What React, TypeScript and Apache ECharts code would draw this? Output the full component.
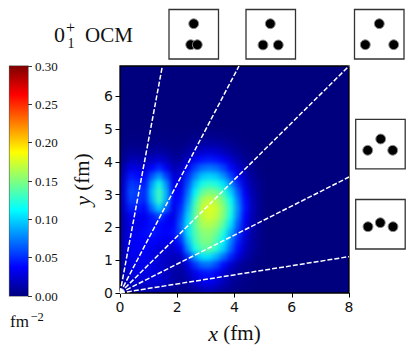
import React, { useEffect, useRef } from "react";
import * as echarts from "echarts";

const X_MAX = 8;
const Y_MAX = 6.93;
const X_TICKS = [0, 2, 4, 6, 8];
const Y_TICKS = [0, 1, 2, 3, 4, 5, 6];
const CELL_COLS = 32;
const CELL_ROWS = 28;
const CELL_SIZE = 0.25;
const COLOR_MAX = 0.3;
const COLOR_TICK_STEP = 0.05;
const JET = ["#00007f", "#0000ff", "#007fff", "#00ffff", "#7fff7f", "#ffff00", "#ff7f00", "#ff0000", "#7f0000"];

// Density, one row per 0.25 fm in y (bottom first), one value per 0.25 fm in x from x = 0.
const DENSITY_ROWS: number[][] = [
  [.008,.014,.016,.016,.016,.016,.012,.008,.005,.007,.012,.018,.02,.016,.01,.006,.003,.002],
  [.012,.022,.025,.026,.026,.026,.02,.012,.008,.013,.024,.032,.034,.028,.018,.01,.005,.003,.001],
  [.014,.028,.03,.03,.028,.026,.02,.013,.01,.018,.032,.042,.044,.036,.024,.014,.007,.004,.002],
  [.014,.03,.032,.032,.03,.025,.02,.014,.012,.028,.052,.068,.07,.058,.04,.024,.012,.006,.003,.001],
  [.014,.03,.034,.034,.03,.026,.022,.018,.02,.05,.085,.105,.105,.09,.07,.048,.028,.014,.006,.002],
  [.016,.034,.036,.036,.032,.028,.026,.024,.036,.08,.118,.138,.14,.125,.1,.068,.04,.02,.009,.003],
  [.016,.034,.036,.038,.038,.034,.032,.034,.05,.095,.13,.148,.15,.135,.11,.078,.047,.024,.01,.004],
  [.016,.032,.034,.04,.044,.04,.036,.042,.062,.105,.135,.152,.155,.145,.122,.09,.055,.028,.012,.004],
  [.016,.03,.03,.036,.042,.04,.034,.036,.065,.105,.14,.162,.165,.158,.138,.105,.065,.032,.014,.005],
  [.016,.034,.034,.032,.044,.058,.04,.03,.058,.1,.14,.168,.175,.168,.15,.118,.075,.038,.016,.006],
  [.02,.046,.044,.04,.07,.1,.068,.032,.05,.09,.135,.17,.178,.172,.152,.122,.08,.042,.018,.006],
  [.024,.056,.052,.048,.09,.13,.088,.036,.042,.08,.125,.16,.17,.163,.145,.115,.075,.04,.017,.006],
  [.024,.06,.055,.05,.095,.132,.09,.036,.036,.07,.11,.14,.15,.145,.128,.1,.065,.034,.014,.005],
  [.022,.054,.05,.044,.085,.118,.08,.032,.03,.06,.095,.118,.125,.12,.105,.08,.05,.026,.011,.004],
  [.018,.044,.04,.036,.062,.082,.056,.026,.026,.05,.075,.095,.1,.095,.08,.058,.036,.019,.008,.002],
  [.012,.03,.028,.024,.038,.048,.034,.016,.018,.036,.055,.068,.072,.068,.056,.04,.024,.012,.005,.001],
  [.006,.016,.015,.013,.02,.024,.018,.009,.01,.02,.034,.042,.045,.042,.034,.024,.014,.007,.002],
  [.003,.008,.007,.006,.009,.011,.008,.004,.005,.01,.018,.022,.024,.022,.018,.012,.007,.003,.001],
  [.001,.003,.003,.002,.003,.004,.003,.002,.002,.004,.008,.01,.011,.01,.008,.005,.003,.001],
  [0,.001,.001,.001,.001,.001,.001,.001,.001,.001,.003,.003,.004,.003,.003,.002,.001],
];

// Far ends of the dashed rays from the origin.
const RAY_ENDS: [number, number][] = [
  [1.48, 6.93],
  [4.157, 6.93],
  [8, 6.93],
  [8, 3.54],
  [8, 1.11],
];

const PLOT = { left: 120, top: 66, width: 229, height: 227 };
const BAR = { left: 9.5, top: 66, width: 18.5, height: 230 };

const INSETS = [
  { x: 169, y: 9.5, dots: [[24.7, 14.2], [21.7, 35.2], [28.3, 35.2]] },
  { x: 246, y: 9.5, dots: [[24.3, 14.2], [17, 35.5], [32.3, 35.5]] },
  { x: 354.5, y: 9.5, dots: [[24.8, 14.2], [10.8, 35.2], [39.2, 35.2]] },
  { x: 355.7, y: 119.3, dots: [[25, 19.7], [12, 31], [37, 31]] },
  { x: 355.7, y: 199.5, dots: [[24.6, 23.2], [12.3, 27.2], [37.3, 27.2]] },
];

const SERIF = "'Liberation Serif', serif";
const SANS = "'DejaVu Sans', sans-serif";

// x, baseline are page pixels; the text box is placed from the top.
function text(str: string, x: number, baseline: number, size: number) {
  return {
    type: "text",
    x,
    y: baseline - size * 0.85,
    style: { text: str, font: `${size}px ${SERIF}`, fill: "#111" },
  };
}

export default function App() {
  const heatRef = useRef<HTMLDivElement>(null);
  const topRef = useRef<HTMLDivElement>(null);

  useEffect(() => {
    const heat = echarts.init(heatRef.current!, undefined, { renderer: "svg" });
    const heatData: number[][] = [];
    for (let r = 0; r < CELL_ROWS; r++) {
      for (let c = 0; c < CELL_COLS; c++) {
        heatData.push([c, r, DENSITY_ROWS[r]?.[c] ?? 0]);
      }
    }
    const xCats = Array.from({ length: CELL_COLS }, (_, i) => (i * CELL_SIZE).toFixed(2));
    const yCats = Array.from({ length: CELL_ROWS }, (_, i) => (i * CELL_SIZE).toFixed(2));
    heat.setOption({
      animation: false,
      grid: { left: 0, right: 0, bottom: 0, top: -2.3, containLabel: false },
      xAxis: { type: "category", data: xCats, show: false },
      yAxis: { type: "category", data: yCats, show: false },
      visualMap: { show: false, min: 0, max: COLOR_MAX, inRange: { color: JET }, calculable: false },
      series: [
        {
          type: "heatmap",
          data: heatData,
          progressive: 0,
          itemStyle: { borderWidth: 0 },
          emphasis: { disabled: true },
        },
      ],
    });

    const top = echarts.init(topRef.current!, undefined, { renderer: "svg" });
    const stops = JET.map((color, i) => ({ offset: i / (JET.length - 1), color }));
    const graphics: any[] = [];
    INSETS.forEach((box) => {
      graphics.push({
        type: "rect",
        shape: { x: box.x, y: box.y, width: 49.5, height: 49.5 },
        style: { fill: "#fff", stroke: "#333", lineWidth: 1.3 },
      });
      box.dots.forEach(([dx, dy]) => {
        graphics.push({
          type: "circle",
          shape: { cx: box.x + dx, cy: box.y + dy, r: 4.9 },
          style: { fill: "#000", stroke: "#8a8a8a", lineWidth: 1 },
        });
      });
    });
    graphics.push(text("0", 54, 42, 22), text("+", 66, 33, 16), text("1", 67.5, 48, 14), text("OCM", 85, 42, 21));
    graphics.push(text("fm", 10, 327, 17), text("\u22122", 30.5, 321, 12.5));

    top.setOption({
      animation: false,
      graphic: graphics,
      grid: [
        { ...PLOT, show: true, borderColor: "#000", borderWidth: 1.3, backgroundColor: "transparent", containLabel: false },
        { ...BAR, show: true, borderColor: "#555", borderWidth: 1.2, backgroundColor: "transparent", containLabel: false },
      ],
      xAxis: [
        {
          type: "value",
          gridIndex: 0,
          min: 0,
          max: X_MAX,
          interval: 2,
          splitLine: { show: false },
          axisLine: { show: false },
          axisTick: { show: true, length: 4.5, lineStyle: { color: "#000", width: 1 } },
          axisLabel: {
            customValues: X_TICKS,
            color: "#111",
            fontFamily: SANS,
            fontSize: 14,
            margin: 7,
            showMinLabel: true,
            showMaxLabel: true,
          },
          name: "{i|x} (fm)",
          nameLocation: "middle",
          nameGap: 29,
          nameTextStyle: {
            color: "#111",
            fontFamily: SERIF,
            fontSize: 21,
            rich: { i: { fontStyle: "italic", fontFamily: SERIF, fontSize: 22, color: "#111" } },
          },
        },
        { type: "category", gridIndex: 1, data: ["density"], show: false },
      ],
      yAxis: [
        {
          type: "value",
          gridIndex: 0,
          min: 0,
          max: Y_MAX,
          splitLine: { show: false },
          axisLine: { show: false },
          axisTick: { show: true, customValues: Y_TICKS, length: 4.5, lineStyle: { color: "#000", width: 1 } },
          axisLabel: { customValues: Y_TICKS, color: "#111", fontFamily: SANS, fontSize: 14, margin: 7 },
          name: "{i|y} (fm)",
          nameLocation: "middle",
          nameGap: 21,
          nameTextStyle: {
            color: "#111",
            fontFamily: SERIF,
            fontSize: 21,
            rich: { i: { fontStyle: "italic", fontFamily: SERIF, fontSize: 22, color: "#111" } },
          },
        },
        {
          type: "value",
          gridIndex: 1,
          position: "right",
          min: 0,
          max: COLOR_MAX,
          interval: COLOR_TICK_STEP,
          splitLine: { show: false },
          axisLine: { show: false },
          axisTick: { show: true, length: 4, lineStyle: { color: "#333", width: 1 } },
          axisLabel: {
            color: "#111",
            fontFamily: SERIF,
            fontSize: 13,
            margin: 7,
            formatter: (v: number) => v.toFixed(2),
          },
        },
      ],
      series: [
        ...RAY_ENDS.map((end) => ({
          type: "line",
          xAxisIndex: 0,
          yAxisIndex: 0,
          data: [[0, 0], end],
          symbol: "none",
          silent: true,
          lineStyle: { color: "#fff", width: 1.5, type: [5, 2] },
        })),
        {
          type: "bar",
          xAxisIndex: 1,
          yAxisIndex: 1,
          data: [COLOR_MAX],
          barWidth: "100%",
          silent: true,
          itemStyle: { color: { type: "linear", x: 0, y: 1, x2: 0, y2: 0, colorStops: stops } },
        },
      ],
    });

    return () => {
      heat.dispose();
      top.dispose();
    };
  }, []);

  return (
    <div style={{ position: "absolute", left: 0, top: 0, width: 415, height: 353, background: "#fff", overflow: "hidden" }}>
      <div
        style={{
          position: "absolute",
          left: PLOT.left,
          top: PLOT.top,
          width: PLOT.width,
          height: PLOT.height,
          overflow: "hidden",
          background: JET[0],
        }}
      >
        <div ref={heatRef} style={{ width: PLOT.width, height: PLOT.height, filter: "blur(2.5px)" }} />
      </div>
      <div ref={topRef} style={{ position: "absolute", left: 0, top: 0, width: 415, height: 353 }} />
    </div>
  );
}
